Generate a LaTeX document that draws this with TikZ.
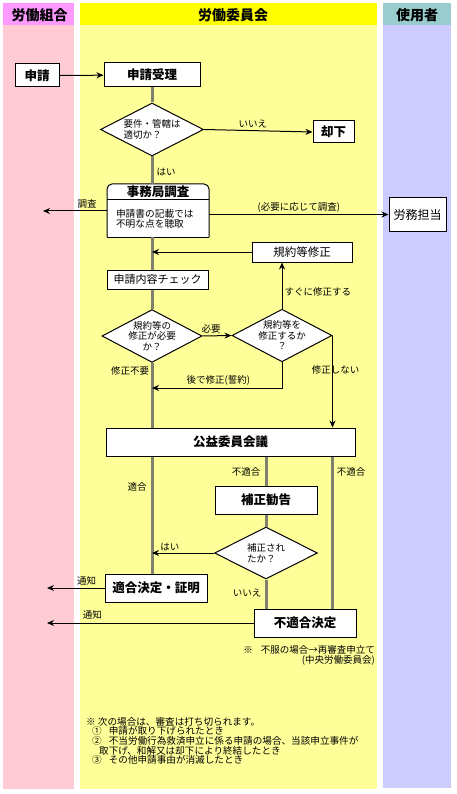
\documentclass[tikz,border=0pt]{standalone}
\usepackage{fontspec}
\setmainfont{Noto Sans CJK JP}
\usetikzlibrary{arrows.meta, calc, shapes.geometric}
\definecolor{hdrL}{RGB}{255,153,255}
\definecolor{colL}{RGB}{255,204,214}
\definecolor{hdrM}{RGB}{255,255,0}
\definecolor{colM}{RGB}{255,255,153}
\definecolor{hdrR}{RGB}{153,204,204}
\definecolor{colR}{RGB}{204,204,255}
\definecolor{trunk}{RGB}{128,128,112}
\tikzset{%
    hdr/.style={font=\fontsize{14}{16}\selectfont\bfseries},
    box/.style={rectangle, draw, fill=white, line width=1pt, inner sep=0pt, font=\fontsize{11.5}{13}\selectfont},
    bbox/.style={box, font=\fontsize{12.5}{14}\selectfont\bfseries},
    dia/.style={diamond, draw, fill=white, line width=1pt, inner sep=-6pt, align=center, font=\fontsize{9.5}{10.5}\selectfont},
    lab/.style={inner sep=1pt, font=\fontsize{9.5}{11}\selectfont},
    gry/.style={line width=3pt, trunk},
    lin/.style={line width=1pt},
    lina/.style={line width=1pt, -{Stealth[length=7pt, width=6pt]}},
}
\begin{document}
\begin{tikzpicture}[x=1pt, y=-1pt]
    \useasboundingbox (0,0) rectangle (456,794);
    \fill [white] (0,0) rectangle (456,794);
    % columns
    \fill [colL] (3,25) rectangle (74,789);
    \fill [colM] (80,25) rectangle (377,789);
    \fill [colR] (383,25) rectangle (451,788);
    \fill [hdrL] (3,3) rectangle (74,25);
    \fill [hdrM] (80,3) rectangle (377,25);
    \fill [hdrR] (383,3) rectangle (451,25);
    \node [hdr] (hkumi) at (39.5,15) {労働組合};
    \node [hdr] (hiin) at (233,15) {労働委員会};
    \node [hdr] (hsiy) at (417,15) {使用者};
    % boxes
    \node [bbox, minimum width=44, minimum height=23] (sin) at (37,75.5) {申請};
    \node [bbox, minimum width=96, minimum height=24] (uke) at (152,75) {申請受理};
    \node [dia, align=left, minimum width=103, minimum height=53] (yoken) at (152,129.5) {要件・管轄は\\適切か？};
    \node [bbox, minimum width=41, minimum height=22] (kyak) at (333.5,132) {却下};
    \coordinate (jnw) at (107,184);
    \coordinate (jse) at (209,237);
    \draw [lin, fill=white, rounded corners=5] (jnw |- jse) -- (jnw) -- (jse |- jnw) -- (jse);
    \draw [lin] (jnw |- jse) -- (jse) (107,200) -- (209,200);
    \node [font=\fontsize{12.5}{14}\selectfont\bfseries] (jimt) at (158,192) {事務局調査};
    \node [lab, text width=84, align=left, font=\fontsize{9.7}{10.3}\selectfont] (jimb) at (158,218.5) {申請書の記載では\\不明な点を聴取};
    \node [box, minimum width=57, minimum height=33, font=\fontsize{12}{14}\selectfont] (rom) at (417.5,214.5) {労務担当};
    \node [box, minimum width=100, minimum height=20] (kiy) at (302,252) {規約等修正};
    \node [box, minimum width=101, minimum height=19, font=\fontsize{11}{13}\selectfont] (chk) at (157.5,279.5) {申請内容チェック};
    \node [dia, minimum width=100, minimum height=50] (hitu) at (152,336) {規約等の\\修正が必要\\か？};
    \node [dia, minimum width=100, minimum height=49] (suru) at (282,335.5) {規約等を\\修正するか\\？};
    \node [bbox, minimum width=249, minimum height=28] (kou) at (230.5,442) {公益委員会議};
    \node [bbox, minimum width=102, minimum height=28] (kan) at (266,500) {補正勧告};
    \node [dia, align=left, minimum width=103, minimum height=52] (hos) at (266,553) {補正され\\たか？};
    \node [bbox, minimum width=102, minimum height=28] (tek) at (156,588) {適合決定・証明};
    \node [bbox, minimum width=102, minimum height=28] (fut) at (305,623) {不適合決定};
    % trunk
    \draw [gry] (uke.south) -- (yoken.north)
        (yoken.south) -- (yoken.south |- jnw)
        (yoken.south |- jse) -- (yoken.south |- chk.north)
        (yoken.south |- chk.south) -- (hitu.north)
        (hitu.south) -- (hitu.south |- kou.north)
        (hitu.south |- kou.south) -- (hitu.south |- tek.north);
    \draw [gry] (kan.north |- kou.south) -- (kan.north)
        (kan.south) -- (hos.north)
        (hos.south) -- (hos.south |- fut.north);
    \draw [gry] (suru.east |- kou.south) -- (suru.east |- fut.north);
    % arrows
    \draw [lina] (sin) -- (uke);
    \draw [lina] (yoken.east) -- (kyak.west) node[lab, pos=0.45, above=1pt] {いいえ};
    \node [lab] (hai) at (166,172) {はい};
    \coordinate (chs) at (43,211);
    \draw [lina] (jnw |- chs) -- (chs) node[lab, pos=0.31, above=1pt] {調査};
    \draw [lina] (jse |- rom.west) -- (rom.west) node[lab, midway, above=1pt] {(必要に応じて調査)};
    \draw [lina] (kiy.west) -- (kiy.west -| hitu.north);
    \draw [lina] (suru.north) -- (suru.north |- kiy.south) node[lab, pos=0.37, right=1pt] {すぐに修正する};
    \draw [lina] (hitu.east) -- (suru.west) node[lab, pos=0.3, above=1pt] {必要};
    \coordinate (ato) at (0,388);
    \draw [lina] (suru.south) |- (hitu.south |- ato) node[lab, pos=0.745, above=1pt] {後で修正(誓約)};
    \node [lab] (fuyo) at (130,371) {修正不要};
    \draw [lina] (suru.east) -- (suru.east |- kou.north) node[lab, pos=0.37, xshift=3pt, fill=none] {修正しない};
    \node [lab] (futa) at (246,472) {不適合};
    \node [lab] (futb) at (351,472) {不適合};
    \node [lab] (tekg) at (137,487) {適合};
    \draw [lina] (hos.west) -- (hos.west -| hitu.south) node[lab, pos=0.71, above=1pt] {はい};
    \node [lab] (iie) at (247,593) {いいえ};
    \coordinate (tsu) at (47,0);
    \draw [lina] (tek.west) -- (tek.west -| tsu) node[lab, pos=0.31, above=1pt] {通知};
    \draw [lina] (fut.west) -- (fut.west -| tsu) node[lab, pos=0.78, above=2pt] {通知};
    % notes
    \node [lab, anchor=north east, align=right, font=\fontsize{9.5}{10}\selectfont] (fufuku) at (376,644) {※\hspace{8pt}不服の場合→再審査申立て\\(中央労働委員会)};
    \node [lab, anchor=north west, align=left, font=\fontsize{9.6}{9.6}\selectfont] (uchi) at (85,716) {※ 次の場合は、審査は打ち切られます。\\
        \hspace*{6pt}①\hspace{7pt}申請が取り下げられたとき\\
        \hspace*{6pt}②\hspace{7pt}不当労働行為救済申立に係る申請の場合、当該申立事件が\\
        \hspace*{13pt}取下げ、和解又は却下により終結したとき\\
        \hspace*{6pt}③\hspace{7pt}その他申請事由が消滅したとき};
\end{tikzpicture}
\end{document}
